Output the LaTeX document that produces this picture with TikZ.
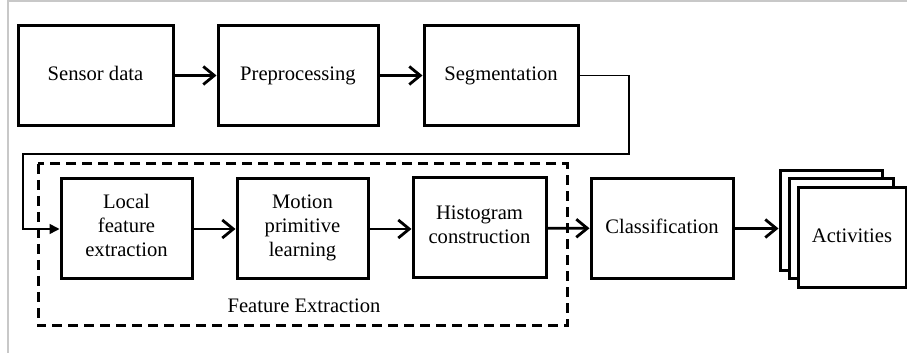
\documentclass[tikz,border=0pt]{standalone}
\usepackage{fontspec}
\setmainfont{Liberation Serif}
\usepackage{tikz}
\usetikzlibrary{arrows.meta,positioning}
\usepackage{xcolor}
\definecolor{frgray}{RGB}{200,200,200}
\tikzstyle{block} = [draw, line width=1.5pt, minimum height=50pt, align=center, inner sep=2pt, font=\fontsize{10.3}{12}\selectfont, execute at begin node=\strut, execute at end node=\strut]
\tikzstyle{arrow} = [line width=1.4pt,-{Straight Barb[length=5.5pt,width=9pt,line width=1.4pt]}]
\tikzstyle{loopline} = [line width=0.8pt,-{Triangle[length=5pt,width=5pt]}]

\begin{document}
\begin{tikzpicture}[x=0.5pt, y=-0.5pt]
\useasboundingbox (0,0) rectangle (907,358);
% frame of the figure
\draw[frgray, line width=0.6pt] (8,353) -- (8,1) -- (907,1);

% Top row
\node[block, minimum width=77.5pt] (sensor) at (95.5,75.5) {Sensor data};
\node[block, minimum width=80pt] (prep) at (298,75.5) {Preprocessing};
\node[block, minimum width=77pt] (seg) at (501,75.5) {Segmentation};

% Feature extraction group
\draw[line width=1.5pt, dash pattern=on 5pt off 3pt] (38,164) rectangle (567,326);
\node[font=\fontsize{10.3}{12}\selectfont] (fe) at (304,306) {Feature Extraction};
\node[block, minimum width=65.5pt] (local) at (126.5,229) {Local\\feature\\extraction};
\node[block, minimum width=65.5pt] (motion) at (302.5,229) {Motion\\primitive\\learning};
\node[block, minimum width=66.5pt] (hist) at (479.5,228) {Histogram\\construction};

% Bottom row, right part
\node[block, minimum width=71pt] (class) at (662,228.5) {Classification};
\node[block, fill=white, minimum width=51pt] (act3) at (831,220.5) {};
\node[block, fill=white, minimum width=52pt] (act2) at (841,229) {};
\node[block, fill=white, minimum width=54pt] (act) at (852,238) {Activities};

% Connectors
\coordinate (turnR) at (629,154);
\coordinate (turnL) at (23,154);
\draw[arrow] (sensor) -- (prep);
\draw[arrow] (prep) -- (seg);
\draw[loopline] (seg.east) -| (turnR) -- (turnL) |- (local.west);
\draw[arrow] (local) -- (motion);
\draw[arrow] (motion) -- (motion -| hist.west);
\draw[arrow] (hist) -- (class);
\draw[arrow] (class.east) -- (class.east -| act3.west);
\end{tikzpicture}
\end{document}
